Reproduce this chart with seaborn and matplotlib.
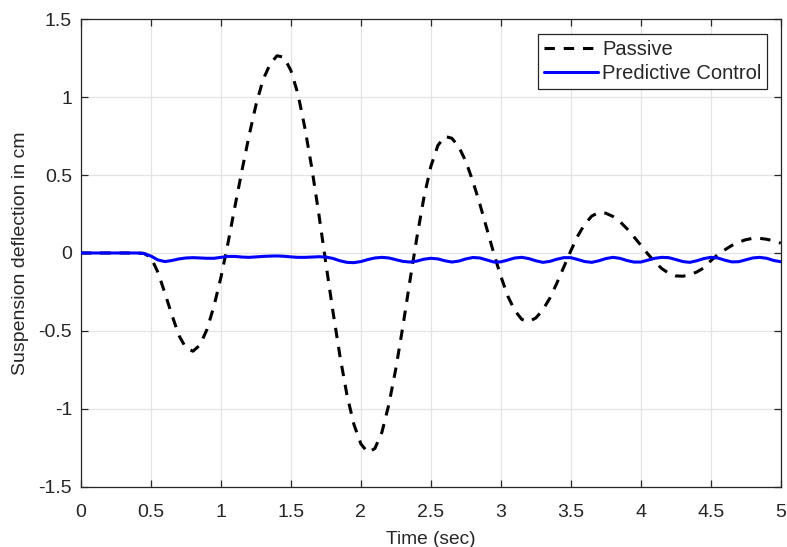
import numpy as np
import pandas as pd
import matplotlib
matplotlib.use("Agg")
import matplotlib.pyplot as plt
import seaborn as sns

# Time samples (sec)
time = [round(0.05 * i, 2) for i in range(101)]

# Passive suspension deflection (cm)
passive = [
    0, 0, 0, 0, 0, 0, 0, 0, 0, -0.003,
    -0.03, -0.125, -0.26, -0.40, -0.53, -0.61, -0.63, -0.59, -0.49, -0.34,
    -0.155, 0.063, 0.30, 0.53, 0.75, 0.95, 1.11, 1.21, 1.265, 1.256,
    1.17, 1.02, 0.80, 0.54, 0.245, -0.07, -0.375, -0.66, -0.91, -1.10,
    -1.225, -1.28, -1.254, -1.15, -0.97, -0.74, -0.47, -0.18, 0.10, 0.355,
    0.556, 0.69, 0.748, 0.736, 0.68, 0.587, 0.46, 0.314, 0.155, -0.004,
    -0.15, -0.277, -0.37, -0.426, -0.44, -0.417, -0.365, -0.29, -0.194, -0.09,
    0.014, 0.11, 0.185, 0.237, 0.26, 0.255, 0.235, 0.202, 0.157, 0.105,
    0.05, -0.006, -0.057, -0.10, -0.13, -0.147, -0.149, -0.14, -0.122, -0.096,
    -0.05, -0.01, 0.02, 0.048, 0.07, 0.085, 0.094, 0.094, 0.088, 0.078,
    0.063,
]

# Predictive control suspension deflection (cm)
predictive = [
    0, 0, 0, 0, 0, 0, 0, 0, 0, -0.003,
    -0.02, -0.045, -0.055, -0.048, -0.038, -0.032, -0.030, -0.032, -0.034, -0.034,
    -0.028, -0.022, -0.022, -0.026, -0.028, -0.025, -0.022, -0.020, -0.019, -0.021,
    -0.025, -0.028, -0.028, -0.026, -0.024, -0.026, -0.035, -0.050, -0.060, -0.062,
    -0.055, -0.042, -0.032, -0.028, -0.032, -0.043, -0.054, -0.058, -0.052, -0.040,
    -0.034, -0.038, -0.050, -0.058, -0.052, -0.038, -0.029, -0.032, -0.045, -0.058,
    -0.057, -0.045, -0.032, -0.028, -0.036, -0.050, -0.060, -0.054, -0.040, -0.030,
    -0.030, -0.042, -0.055, -0.060, -0.050, -0.036, -0.028, -0.034, -0.048, -0.058,
    -0.058, -0.046, -0.034, -0.028, -0.030, -0.042, -0.055, -0.060, -0.050, -0.036,
    -0.028, -0.032, -0.046, -0.057, -0.056, -0.044, -0.032, -0.028, -0.034, -0.048,
    -0.056,
]

x_ticks = [0, 0.5, 1, 1.5, 2, 2.5, 3, 3.5, 4, 4.5, 5]
x_tick_labels = ["0", "0.5", "1", "1.5", "2", "2.5", "3", "3.5", "4", "4.5", "5"]
y_ticks = [-1.5, -1, -0.5, 0, 0.5, 1, 1.5]
y_tick_labels = ["-1.5", "-1", "-0.5", "0", "0.5", "1", "1.5"]

sns.set_theme(style="white")
plt.rcParams["font.family"] = ["Liberation Sans", "DejaVu Sans"]
plt.rcParams["axes.unicode_minus"] = False

fig = plt.figure(figsize=(7.87, 5.47), dpi=100)
ax = fig.add_axes([0.103, 0.110, 0.889, 0.855])

df = pd.DataFrame({"t": time, "passive": passive, "pred": predictive})
sns.lineplot(data=df, x="t", y="passive", ax=ax, color="black", linewidth=2.2,
             label="Passive", zorder=3)
ax.lines[-1].set_dashes([3.4, 2.9])
sns.lineplot(data=df, x="t", y="pred", ax=ax, color=(0, 0, 1), linewidth=2.2,
             label="Predictive Control", zorder=4)

ax.set_xlim(0, 5)
ax.set_ylim(-1.5, 1.5)
ax.set_xticks(x_ticks)
ax.set_xticklabels(x_tick_labels)
ax.set_yticks(y_ticks)
ax.set_yticklabels(y_tick_labels)
ax.grid(True, color="#e3e3e3", linewidth=0.9)
ax.set_axisbelow(True)
for s in ax.spines.values():
    s.set_color("#262626")
    s.set_linewidth(0.9)
    s.set_visible(True)
ax.tick_params(axis="both", direction="in", length=5, width=0.9, color="#262626",
               labelsize=14, labelcolor="#262626", top=True, right=True,
               bottom=True, left=True)
ax.tick_params(axis="x", pad=12.5)
ax.tick_params(axis="y", pad=6.5)
ax.set_xlabel("Time (sec)", fontsize=13.8, color="#262626", labelpad=7)
ax.set_ylabel("Suspension deflection in cm", fontsize=14, color="#262626", labelpad=7)

leg = ax.legend(loc="upper right", bbox_to_anchor=(0.981, 0.968), fontsize=14.5,
                frameon=True, fancybox=False, handlelength=2.7, handletextpad=0.2,
                borderpad=0.3, labelspacing=0.25, borderaxespad=0.0)
leg.get_frame().set_edgecolor("#262626")
leg.get_frame().set_linewidth(0.9)
leg.get_frame().set_alpha(1)

fig.savefig("out.png", dpi=100)
